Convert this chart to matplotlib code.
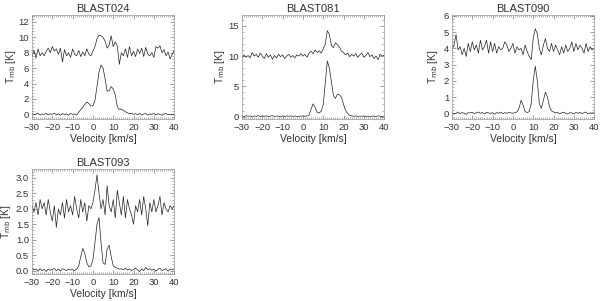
import numpy as np
import matplotlib
matplotlib.use("Agg")
import matplotlib.pyplot as plt
from matplotlib.ticker import MultipleLocator, AutoMinorLocator

plt.rcParams['font.family'] = ['Liberation Sans', 'DejaVu Sans']

# velocity channels, km/s
velocity = np.arange(-30, 41, 1)

names = ["BLAST024", "BLAST081", "BLAST090", "BLAST093"]

# lower spectra
b024_lo = [0.10, -0.05, 0.05, 0.15, -0.10, 0.05, 0.00, 0.12, -0.08, 0.06,
           0.02, 0.14, -0.06, 0.08, -0.12, 0.10, 0.00, 0.06, -0.10, 0.12,
           0.00, 0.05, -0.08, 0.30, 0.60, 0.90, 1.30, 1.60, 1.40, 1.10,
           1.10, 1.80, 3.60, 5.50, 6.40, 6.00, 4.60, 3.00, 3.10, 3.60,
           3.30, 2.50, 1.00, 0.60, 0.70, 0.50, 0.35, 0.20, 0.10, 0.15,
           0.00, 0.10, -0.05, 0.12, -0.08, 0.05, 0.10, -0.10, 0.06, 0.00,
           0.12, -0.06, 0.08, 0.00, -0.10, 0.06, 0.10, -0.05, 0.04, -0.08,
           0.05]
b081_lo = [0.10, 0.00, 0.15, 0.05, 0.10, -0.05, 0.10, 0.05, 0.15, 0.00,
           0.10, 0.05, 0.12, 0.00, 0.08, 0.15, 0.02, 0.10, 0.05, -0.05,
           0.10, 0.00, 0.12, 0.05, 0.10, 0.02, 0.12, 0.00, 0.08, 0.05,
           0.10, 0.05, 0.10, 0.20, 1.20, 2.10, 1.50, 0.70, 0.60, 0.90,
           2.00, 5.50, 9.20, 8.00, 5.80, 3.50, 3.00, 3.70, 3.60, 3.20,
           2.00, 1.00, 0.50, 0.20, 0.10, 0.05, 0.12, 0.00, 0.08, 0.05,
           0.10, 0.00, 0.08, -0.05, 0.10, 0.05, 0.00, 0.12, 0.05, -0.05,
           0.08]
b090_lo = [0.05, -0.05, 0.00, 0.08, -0.03, 0.05, 0.00, -0.06, 0.04, 0.02,
           0.06, -0.02, 0.03, 0.08, 0.00, 0.05, -0.04, 0.06, 0.02, 0.00,
           0.04, -0.06, 0.05, 0.00, 0.07, -0.03, 0.04, 0.00, 0.06, 0.02,
           0.00, 0.05, 0.08, 0.30, 0.80, 0.50, 0.10, 0.05, 0.10, 0.60,
           2.00, 2.90, 2.00, 0.60, 0.30, 0.80, 1.30, 1.00, 0.40, 0.15,
           0.08, 0.02, 0.06, -0.04, 0.03, 0.07, 0.00, -0.05, 0.04, 0.02,
           -0.03, 0.05, 0.00, 0.06, -0.02, 0.04, 0.08, -0.04, 0.03, 0.00,
           0.05]
b093_lo = [0.08, 0.02, 0.05, -0.02, 0.06, 0.00, 0.04, -0.03, 0.05, 0.01,
           0.04, 0.07, 0.00, 0.05, -0.02, 0.06, 0.03, 0.00, 0.05, 0.02,
           0.04, 0.00, 0.05, 0.15, 0.45, 0.72, 0.55, 0.25, 0.12, 0.15,
           0.35, 0.90, 1.50, 1.72, 0.90, 0.25, 0.20, 0.70, 0.82, 0.45,
           0.15, 0.10, 0.08, 0.05, 0.06, 0.03, 0.07, 0.02, 0.05, 0.00,
           0.04, 0.08, 0.02, -0.03, 0.05, 0.00, 0.10, 0.03, 0.06, 0.01,
           0.05, -0.02, 0.04, 0.08, 0.00, 0.03, 0.06, -0.02, 0.05, 0.02,
           0.03]

# upper spectra (already offset)
b024_hi = [7.5, 8.3, 7.3, 8.5, 7.6, 8.0, 7.6, 8.2, 8.6, 8.0,
           8.8, 8.2, 8.5, 7.8, 8.6, 6.8, 8.4, 7.6, 8.0, 7.4,
           8.5, 7.8, 7.6, 8.3, 7.5, 8.1, 7.6, 8.5, 7.8, 7.6,
           8.2, 8.8, 9.8, 10.3, 10.2, 10.0, 9.5, 8.6, 9.0, 10.2,
           8.8, 9.4, 8.9, 6.5, 8.0, 7.6, 8.5, 7.4, 8.8, 7.6,
           8.2, 7.5, 8.5, 7.9, 8.6, 7.5, 8.7, 7.8, 7.6, 8.0,
           7.4, 8.8, 8.6, 8.9, 8.0, 8.4, 7.6, 8.1, 7.2, 7.8,
           8.3]
b081_hi = [9.6, 10.2, 9.8, 10.1, 9.7, 10.6, 10.0, 10.3, 9.8, 10.5,
           10.0, 9.6, 10.4, 9.8, 10.2, 9.5, 10.1, 9.7, 10.3, 9.9,
           10.2, 9.6, 10.0, 10.3, 9.8, 10.1, 9.7, 10.2, 10.0, 10.4,
           10.0, 10.3, 9.8, 10.5, 10.8, 10.4, 11.0, 10.6, 10.9, 10.5,
           11.2, 12.0, 14.2, 13.6, 11.8, 11.4, 12.2, 11.9, 11.5, 10.8,
           10.6, 10.2, 10.5, 9.9, 10.3, 10.0, 10.4, 9.8, 10.2, 10.5,
           9.8, 10.1, 10.6, 9.9, 10.2, 9.6, 10.0, 9.4, 10.3, 10.0,
           10.2]
b090_hi = [3.9, 4.2, 4.85, 3.9, 4.1, 3.6, 4.0, 3.5, 4.3, 3.8,
           4.4, 3.9, 4.2, 3.7, 4.5, 3.9, 4.1, 4.5, 3.7, 4.4,
           3.8, 4.3, 3.7, 4.1, 3.9, 4.0, 4.4, 4.2, 3.8, 4.0,
           4.3, 3.7, 4.1, 3.9, 4.0, 3.6, 4.2, 3.8, 3.5, 3.3,
           4.6, 5.2, 4.9, 4.0, 3.6, 4.2, 4.6, 4.0, 3.8, 4.3,
           3.8, 4.2, 3.9, 3.6, 4.1, 3.7, 4.2, 3.8, 4.0, 4.4,
           3.8, 4.3, 3.9, 4.2, 4.0, 3.7, 4.3, 3.8, 4.1, 3.9,
           4.0]
b093_hi = [2.1, 1.9, 2.2, 1.8, 2.3, 2.0, 2.2, 1.8, 2.3, 1.9,
           1.6, 2.1, 1.4, 2.0, 1.8, 2.2, 1.7, 2.3, 1.9, 2.1,
           1.8, 2.4, 2.0, 1.7, 2.3, 1.9, 2.2, 1.6, 2.1, 2.0,
           2.2, 2.6, 3.1, 2.5, 2.0, 2.3, 1.8, 2.75, 2.1, 1.9,
           2.3, 1.7, 2.6, 2.2, 1.8, 2.4, 1.7, 2.3, 2.0, 1.8,
           1.5, 2.1, 1.9, 2.3, 1.8, 2.4, 2.0, 1.45, 2.2, 1.9,
           2.3, 1.9, 2.1, 2.4, 1.8, 2.2, 2.0, 1.9, 2.1, 2.0,
           2.1]

lower = [b024_lo, b081_lo, b090_lo, b093_lo]
upper = [b024_hi, b081_hi, b090_hi, b093_hi]
ylims = [(-0.6, 12.9), (-0.4, 16.8), (-0.35, 6.05), (-0.11, 3.29)]
ystep = [2, 5, 1, 0.5]

# axes boxes in figure fraction
boxes = [[0.0533, 0.6047, 0.237, 0.3455],
         [0.4033, 0.6047, 0.237, 0.3455],
         [0.7533, 0.6047, 0.237, 0.3455],
         [0.0533, 0.0897, 0.237, 0.3490]]
ylab_x = [-0.145, -0.155, -0.13, -0.18]

txt = '#333333'
fig = plt.figure(figsize=(6.0, 3.01), dpi=100)

for i in range(4):
    ax = fig.add_axes(boxes[i])
    ax.plot(velocity, lower[i], color='#222222', lw=0.5)
    ax.plot(velocity, upper[i], color='#222222', lw=0.5)
    ax.set_xlim(-30, 40)
    ax.set_ylim(*ylims[i])
    ax.xaxis.set_major_locator(MultipleLocator(10))
    ax.xaxis.set_minor_locator(AutoMinorLocator(10))
    ax.yaxis.set_major_locator(MultipleLocator(ystep[i]))
    ax.yaxis.set_minor_locator(AutoMinorLocator(5))
    if i == 3:
        ax.yaxis.set_major_formatter(plt.FormatStrFormatter('%.1f'))
    ax.tick_params(which='both', direction='in', top=True, right=True,
                   labelsize=6.8, color='#777777', labelcolor=txt, pad=3)
    ax.tick_params(axis='y', which='major', pad=2)
    ax.tick_params(which='major', length=3, width=0.5)
    ax.tick_params(which='minor', length=1.5, width=0.4)
    for s in ax.spines.values():
        s.set_linewidth(0.5)
        s.set_color('#999999')
    ax.set_title(names[i], fontsize=8, pad=2, color=txt)
    ax.set_xlabel("Velocity [km/s]", fontsize=7.5, labelpad=1, color=txt)
    ax.set_ylabel(r"T$_{\rm mb}$ [K]", fontsize=7.2, color=txt, va='center')
    ax.yaxis.set_label_coords(ylab_x[i], 0.5)

fig.savefig("out.png", dpi=100)
